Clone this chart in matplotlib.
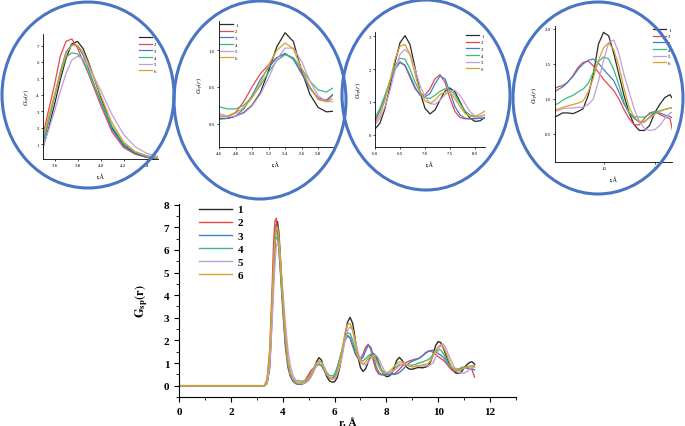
import numpy as np
import matplotlib
matplotlib.use("Agg")
import matplotlib.pyplot as plt
from matplotlib.patches import Ellipse
from matplotlib.ticker import MultipleLocator, FixedLocator

plt.rcParams['font.family'] = ['Liberation Serif', 'DejaVu Serif']
plt.rcParams['mathtext.fontset'] = 'stix'

# ---------------- data ----------------
r = [0.0, 3.3, 3.4,
     3.5, 3.55, 3.6, 3.65, 3.7, 3.75, 3.8, 3.85, 3.9, 3.95, 4.0,
     4.1, 4.2, 4.3, 4.4, 4.5, 4.6, 4.7, 4.8, 4.9, 5.0, 5.1, 5.2, 5.3, 5.4, 5.5, 5.6, 5.7, 5.8, 5.9, 6.0,
     6.1, 6.2, 6.3, 6.4, 6.5, 6.6, 6.7, 6.8, 6.9, 7.0, 7.1, 7.2, 7.3, 7.4, 7.5, 7.6, 7.7, 7.8, 7.9, 8.0, 8.1, 8.2,
     8.3, 8.4, 8.5, 8.6, 8.7, 8.8, 8.9, 9.0,
     9.1, 9.2, 9.3, 9.4, 9.5, 9.6, 9.7, 9.8, 9.9, 10.0, 10.1, 10.2, 10.3, 10.4, 10.5, 10.6, 10.7, 10.8, 10.9, 11.0, 11.1, 11.2, 11.3, 11.4]

g1 = [0, 0, 0.1,
      0.8, 2.0, 3.4, 4.9, 6.2, 7.1, 7.25, 6.8, 5.9, 4.9, 3.9,
      2.0, 0.95, 0.45, 0.22, 0.1, 0.07, 0.07, 0.1, 0.15, 0.25, 0.42, 0.72, 1.05, 1.24, 1.12, 0.72, 0.4, 0.22, 0.16, 0.17,
      0.35, 0.8, 1.45, 2.2, 2.8, 3.02, 2.75, 2.05, 1.3, 0.8, 0.63, 0.75, 1.05, 1.33, 1.42, 1.3, 1.0, 0.7, 0.5, 0.4, 0.42, 0.52,
      0.8, 1.12, 1.25, 1.13, 0.95, 0.8, 0.73, 0.73,
      0.76, 0.8, 0.8, 0.79, 0.82, 0.86, 1.05, 1.35, 1.78, 1.95, 1.9, 1.65, 1.35, 1.05, 0.8, 0.63, 0.55, 0.55, 0.62, 0.8, 0.92, 1.02, 1.06, 0.95]

g2 = [0, 0, 0.3,
      1.6, 3.1, 4.6, 6.35, 7.25, 7.4, 6.85, 6.0, 5.2, 4.3, 3.4,
      1.75, 0.8, 0.4, 0.2, 0.12, 0.1, 0.1, 0.15, 0.3, 0.5, 0.68, 0.8, 0.9, 0.95, 0.88, 0.7, 0.5, 0.33, 0.3, 0.42,
      0.75, 1.15, 1.6, 2.0, 2.22, 2.1, 1.75, 1.4, 1.22, 1.2, 1.4, 1.7, 1.83, 1.6, 1.1, 0.7, 0.52, 0.48, 0.48, 0.5, 0.5, 0.5,
      0.52, 0.6, 0.72, 0.85, 0.97, 1.05, 1.1, 1.13,
      1.17, 1.19, 1.24, 1.33, 1.45, 1.52, 1.54, 1.47, 1.38, 1.28, 1.2, 1.12, 1.0, 0.85, 0.72, 0.63, 0.63, 0.72, 0.8, 0.82, 0.78, 0.74, 0.72, 0.38]

g3 = [0, 0, 0.2,
      1.0, 2.4, 3.9, 5.4, 6.6, 7.05, 7.0, 6.4, 5.5, 4.5, 3.6,
      1.9, 0.9, 0.42, 0.2, 0.1, 0.06, 0.07, 0.1, 0.2, 0.38, 0.6, 0.76, 0.9, 0.96, 0.88, 0.68, 0.48, 0.35, 0.32, 0.42,
      0.75, 1.15, 1.6, 2.0, 2.2, 2.12, 1.8, 1.45, 1.2, 1.15, 1.25, 1.55, 1.78, 1.7, 1.3, 0.85, 0.6, 0.5, 0.48, 0.48, 0.5, 0.5,
      0.5, 0.52, 0.58, 0.68, 0.8, 0.92, 1.02, 1.08,
      1.13, 1.17, 1.24, 1.32, 1.42, 1.5, 1.55, 1.57, 1.51, 1.42, 1.34, 1.26, 1.1, 0.93, 0.8, 0.72, 0.67, 0.67, 0.74, 0.8, 0.8, 0.77, 0.75, 0.7]

g4 = [0, 0, 0.25,
      1.2, 2.5, 3.9, 5.2, 6.3, 6.55, 6.5, 6.1, 5.3, 4.5, 3.7,
      2.1, 1.05, 0.55, 0.3, 0.2, 0.23, 0.2, 0.2, 0.25, 0.36, 0.52, 0.7, 0.86, 0.94, 0.9, 0.75, 0.58, 0.46, 0.43, 0.5,
      0.8, 1.2, 1.65, 2.1, 2.33, 2.3, 2.0, 1.6, 1.3, 1.12, 1.1, 1.2, 1.32, 1.4, 1.38, 1.2, 0.95, 0.72, 0.6, 0.55, 0.55, 0.6,
      0.72, 0.85, 0.93, 0.95, 0.92, 0.9, 0.9, 0.91,
      0.93, 0.98, 1.02, 1.05, 1.1, 1.14, 1.22, 1.38, 1.53, 1.6, 1.57, 1.42, 1.2, 0.95, 0.8, 0.75, 0.74, 0.74, 0.78, 0.81, 0.83, 0.85, 0.87, 0.88]

g5 = [0, 0, 0.1,
      0.85, 1.9, 3.0, 4.2, 5.3, 6.1, 6.35, 6.2, 5.7, 5.0, 4.3,
      2.8, 1.6, 0.85, 0.45, 0.25, 0.14, 0.1, 0.1, 0.14, 0.24, 0.4, 0.62, 0.88, 1.03, 1.03, 0.85, 0.58, 0.38, 0.3, 0.3,
      0.5, 0.85, 1.35, 1.95, 2.45, 2.6, 2.45, 2.0, 1.5, 1.15, 0.95, 0.92, 1.05, 1.22, 1.33, 1.35, 1.2, 0.95, 0.7, 0.57, 0.55, 0.6,
      0.68, 0.78, 0.88, 0.95, 0.97, 0.93, 0.87, 0.83,
      0.83, 0.86, 0.87, 0.87, 0.88, 0.88, 0.92, 1.0, 1.25, 1.55, 1.8, 1.84, 1.65, 1.35, 1.1, 0.86, 0.68, 0.58, 0.55, 0.56, 0.62, 0.72, 0.8, 0.82]

g6 = [0, 0, 0.3,
      1.45, 2.7, 4.0, 5.3, 6.5, 7.0, 7.0, 6.6, 5.8, 4.9, 4.0,
      2.3, 1.15, 0.55, 0.28, 0.15, 0.1, 0.1, 0.14, 0.22, 0.35, 0.55, 0.8, 1.0, 1.1, 1.02, 0.75, 0.5, 0.34, 0.3, 0.35,
      0.6, 1.05, 1.65, 2.3, 2.7, 2.75, 2.45, 1.85, 1.3, 1.02, 0.95, 1.05, 1.22, 1.3, 1.28, 1.1, 0.85, 0.65, 0.55, 0.55, 0.62, 0.72,
      0.85, 0.97, 1.05, 1.05, 0.97, 0.9, 0.86, 0.85,
      0.85, 0.88, 0.9, 0.92, 0.94, 0.97, 1.1, 1.3, 1.55, 1.73, 1.8, 1.7, 1.47, 1.15, 0.88, 0.74, 0.68, 0.68, 0.73, 0.78, 0.82, 0.85, 0.87, 0.85]

labels = ['1', '2', '3', '4', '5', '6']
series = [g1, g2, g3, g4, g5, g6]
colors = ['#2a2a2a', '#e8474c', '#3f7fcf', '#3fb97c', '#c49ddb', '#d9a326']

main_xticks = [0, 2, 4, 6, 8, 10, 12]
main_yticks = [0, 1, 2, 3, 4, 5, 6, 7, 8]

# inset settings: (pixel box l,t,r,b), xlim, ylim, xticks, yticks, xfmt, yfmt, legend loc
insets = [
    ((43, 35, 158, 160), (3.5, 4.5), (0.1, 7.7), [3.6, 3.8, 4.0, 4.2, 4.4], [1, 2, 3, 4, 5, 6, 7], '{:.1f}', '{:.0f}', 'upper right'),
    ((219, 22, 333, 148), (4.6, 5.98), (-0.32, 1.4), [4.6, 4.8, 5.0, 5.2, 5.4, 5.6, 5.8], [0.0, 0.5, 1.0], '{:.1f}', '{:.1f}', 'upper left'),
    ((375, 33, 485, 148), (6.0, 8.2), (-0.38, 3.13), [6.0, 6.5, 7.0, 7.5, 8.0], [0, 1, 2, 3], '{:.1f}', '{:.0f}', 'upper right'),
    ((555, 27, 672, 163), (9.05, 11.34), (0.1, 2.04), [10, 11], [0.5, 1.0, 1.5, 2.0], '{:.0f}', '{:.1f}', 'upper right'),
]
ellipses = [(88, 96, 172, 186), (260, 101, 172, 198), (426, 96, 168, 190), (598, 99, 170, 192)]

W, H = 685, 427
fig = plt.figure(figsize=(W / 100, H / 100), dpi=100)


def box(l, t, rr, b):
    return [l / W, 1 - b / H, (rr - l) / W, (b - t) / H]


# ---------------- main chart ----------------
ax = fig.add_axes(box(179, 204.5, 516, 398))
for g, c, lab in zip(series, colors, labels):
    ax.plot(r, g, color=c, lw=1.0, label=lab)
ax.set_xlim(0, 13)
ax.set_ylim(-0.5, 8.05)
ax.set_xticks(main_xticks)
ax.set_yticks(main_yticks)
ax.xaxis.set_minor_locator(MultipleLocator(1))
ax.yaxis.set_minor_locator(MultipleLocator(0.5))
for s in ['top', 'right']:
    ax.spines[s].set_visible(False)
ax.tick_params(which='major', direction='out', length=3.5, width=0.8, labelsize=8)
ax.tick_params(which='minor', direction='out', length=2, width=0.6)
for t in ax.get_xticklabels() + ax.get_yticklabels():
    t.set_fontweight('bold')
ax.set_xlabel('r, Å', fontsize=8, fontweight='bold', labelpad=1)
ax.set_ylabel(r'$\mathbf{G_{sp}(r)}$', fontsize=9, labelpad=10)
leg = ax.legend(loc='upper left', bbox_to_anchor=(0.055, 1.0), frameon=False,
                prop={'weight': 'bold', 'size': 8}, handlelength=3.0,
                labelspacing=0.3, borderaxespad=0, borderpad=0.1, handletextpad=0.5)

# ---------------- insets ----------------
for (pbox, xl, yl, xt, yt, xf, yf, lloc) in insets:
    ai = fig.add_axes(box(*pbox))
    for g, c, lab in zip(series, colors, labels):
        ai.plot(r, g, color=c, lw=0.9, label=lab)
    ai.set_xlim(*xl)
    ai.set_ylim(*yl)
    ai.xaxis.set_major_locator(FixedLocator(xt))
    ai.yaxis.set_major_locator(FixedLocator(yt))
    ai.set_xticklabels([xf.format(v) for v in xt])
    ai.set_yticklabels([yf.format(v) for v in yt])
    for s in ['top', 'right']:
        ai.spines[s].set_visible(False)
    for s in ['left', 'bottom']:
        ai.spines[s].set_linewidth(0.6)
    ai.tick_params(direction='out', length=1.5, width=0.5, labelsize=3.5, pad=1.5)
    ai.set_xlabel('r,Å', fontsize=4.5, labelpad=4)
    ai.set_ylabel(r'$G_{sp}(r)$', fontsize=4.5, labelpad=3)
    ai.patch.set_alpha(0)
    ai.legend(loc=lloc, frameon=False, fontsize=3.5, handlelength=2.6,
              labelspacing=0.45, borderaxespad=0.2, borderpad=0.1, handletextpad=0.4)

# ---------------- ellipses overlay ----------------
ov = fig.add_axes([0, 0, 1, 1], zorder=10)
ov.set_xlim(0, W)
ov.set_ylim(H, 0)
ov.axis('off')
ov.patch.set_alpha(0)
for (cx, cy, ew, eh) in ellipses:
    ov.add_patch(Ellipse((cx, cy), ew, eh, fill=False, edgecolor='#4a74c4', lw=2.2))

fig.savefig('out.png', dpi=100)
